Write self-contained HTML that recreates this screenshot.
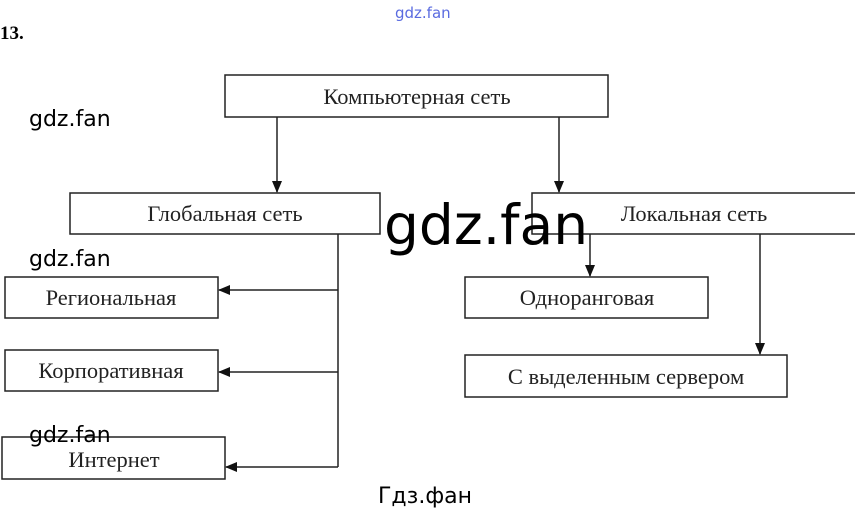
<!DOCTYPE html>
<html><head><meta charset="utf-8"><style>
html,body{margin:0;padding:0;background:#fff;}
svg{display:block;}
.s{font-family:"Liberation Serif",serif;font-size:22.5px;fill:#222;}
.w{font-family:"DejaVu Sans",sans-serif;fill:#000;}
</style></head><body>
<svg width="855" height="514" viewBox="0 0 855 514" xmlns="http://www.w3.org/2000/svg">
<defs><marker id="a" markerWidth="12" markerHeight="12" refX="11" refY="6" orient="auto" markerUnits="userSpaceOnUse"><path d="M0,1 L12,6 L0,11 Z" fill="#111"/></marker></defs>
<g fill="none" stroke="#222" stroke-width="1.5">
<rect x="225" y="75" width="383" height="42"/>
<rect x="70" y="193" width="310" height="41"/>
<rect x="532" y="193" width="330" height="41"/>
<rect x="465" y="277" width="243" height="41"/>
<rect x="465" y="355" width="322" height="42"/>
<rect x="5" y="277" width="213" height="41"/>
<rect x="5" y="350" width="213" height="41"/>
<rect x="2" y="437" width="223" height="42"/>
<line x1="277" y1="117" x2="277" y2="192" marker-end="url(#a)"/>
<line x1="559" y1="117" x2="559" y2="192" marker-end="url(#a)"/>
<line x1="590" y1="234" x2="590" y2="276" marker-end="url(#a)"/>
<line x1="760" y1="234" x2="760" y2="354" marker-end="url(#a)"/>
<line x1="338" y1="234" x2="338" y2="467"/>
<line x1="338" y1="290" x2="219" y2="290" marker-end="url(#a)"/>
<line x1="338" y1="372" x2="219" y2="372" marker-end="url(#a)"/>
<line x1="338" y1="467" x2="226" y2="467" marker-end="url(#a)"/>
</g>
<text class="s" x="417" y="104" text-anchor="middle">Компьютерная сеть</text>
<text class="s" x="225" y="221" text-anchor="middle">Глобальная сеть</text>
<text class="s" x="694" y="221" text-anchor="middle">Локальная сеть</text>
<text class="s" x="587" y="305" text-anchor="middle">Одноранговая</text>
<text class="s" x="626" y="384" text-anchor="middle">С выделенным сервером</text>
<text class="s" x="111" y="305" text-anchor="middle">Региональная</text>
<text class="s" x="111" y="378" text-anchor="middle">Корпоративная</text>
<text class="s" x="114" y="467" text-anchor="middle">Интернет</text>
<text x="0" y="39" style="font-family:'Liberation Serif',serif;font-weight:bold;font-size:19px;">13.</text>
<text x="395" y="18" style="font-family:'DejaVu Sans',sans-serif;font-size:15px;fill:#5a6be0;">gdz.fan</text>
<text class="w" x="29" y="126" font-size="22">gdz.fan</text>
<text class="w" x="29" y="266" font-size="22">gdz.fan</text>
<text class="w" x="29" y="442" font-size="22">gdz.fan</text>
<text class="w" x="384" y="244" font-size="55">gdz.fan</text>
<text class="w" x="378" y="503" font-size="22">Гдз.фан</text>
</svg>
</body></html>
